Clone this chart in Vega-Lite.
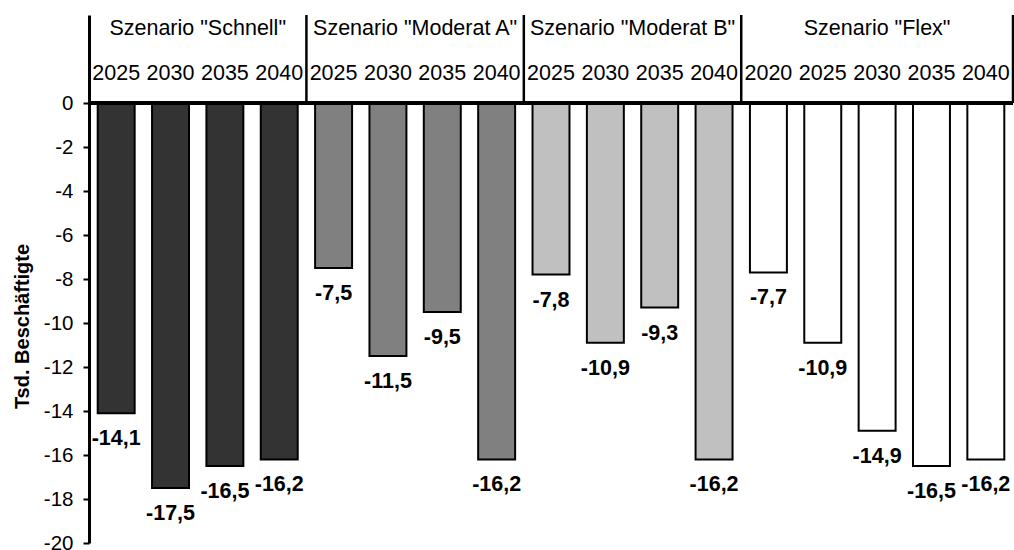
{
  "$schema": "https://vega.github.io/schema/vega-lite/v6.json",
  "autosize": "none",
  "width": 924,
  "height": 528,
  "padding": {"left": 89, "top": 15, "right": 1, "bottom": 7},
  "background": "white",
  "config": {
    "view": {"stroke": null},
    "font": "Liberation Sans",
    "locale": {"number": {"decimal": ",", "thousands": ".", "grouping": [3], "currency": ["", " €"], "minus": "-"}}
  },
  "data": {
    "values": [
      {"scenario": "Schnell", "header": "Szenario \"Schnell\"", "year": "2025", "key": "Schnell 2025", "value": -14.1},
      {"scenario": "Schnell", "header": "Szenario \"Schnell\"", "year": "2030", "key": "Schnell 2030", "value": -17.5},
      {"scenario": "Schnell", "header": "Szenario \"Schnell\"", "year": "2035", "key": "Schnell 2035", "value": -16.5},
      {"scenario": "Schnell", "header": "Szenario \"Schnell\"", "year": "2040", "key": "Schnell 2040", "value": -16.2},
      {"scenario": "Moderat A", "header": "Szenario \"Moderat A\"", "year": "2025", "key": "Moderat A 2025", "value": -7.5},
      {"scenario": "Moderat A", "header": "Szenario \"Moderat A\"", "year": "2030", "key": "Moderat A 2030", "value": -11.5},
      {"scenario": "Moderat A", "header": "Szenario \"Moderat A\"", "year": "2035", "key": "Moderat A 2035", "value": -9.5},
      {"scenario": "Moderat A", "header": "Szenario \"Moderat A\"", "year": "2040", "key": "Moderat A 2040", "value": -16.2},
      {"scenario": "Moderat B", "header": "Szenario \"Moderat B\"", "year": "2025", "key": "Moderat B 2025", "value": -7.8},
      {"scenario": "Moderat B", "header": "Szenario \"Moderat B\"", "year": "2030", "key": "Moderat B 2030", "value": -10.9},
      {"scenario": "Moderat B", "header": "Szenario \"Moderat B\"", "year": "2035", "key": "Moderat B 2035", "value": -9.3},
      {"scenario": "Moderat B", "header": "Szenario \"Moderat B\"", "year": "2040", "key": "Moderat B 2040", "value": -16.2},
      {"scenario": "Flex", "header": "Szenario \"Flex\"", "year": "2020", "key": "Flex 2020", "value": -7.7},
      {"scenario": "Flex", "header": "Szenario \"Flex\"", "year": "2025", "key": "Flex 2025", "value": -10.9},
      {"scenario": "Flex", "header": "Szenario \"Flex\"", "year": "2030", "key": "Flex 2030", "value": -14.9},
      {"scenario": "Flex", "header": "Szenario \"Flex\"", "year": "2035", "key": "Flex 2035", "value": -16.5},
      {"scenario": "Flex", "header": "Szenario \"Flex\"", "year": "2040", "key": "Flex 2040", "value": -16.2}
    ]
  },
  "layer": [
    {
      "mark": {"type": "bar", "stroke": "black", "strokeWidth": 2},
      "encoding": {
        "x": {"field": "key", "type": "nominal", "sort": null, "axis": null, "scale": {"paddingInner": 0.32, "paddingOuter": 0.16}},
        "y": {
          "field": "value", "type": "quantitative",
          "scale": {"domain": [-20, 4], "nice": false, "zero": false},
          "axis": {
            "values": [-20, -18, -16, -14, -12, -10, -8, -6, -4, -2, 0],
            "format": "d",
            "grid": false,
            "title": "Tsd. Beschäftigte",
            "titleFont": "Liberation Sans",
            "titleFontSize": 20,
            "titleFontWeight": "bold",
            "titleColor": "black",
            "titleAngle": -90,
            "titleX": -61,
            "titleY": 311,
            "titleAlign": "center",
            "titleBaseline": "alphabetic",
            "labelFont": "Liberation Sans",
            "labelFontSize": 20.5,
            "labelColor": "black",
            "labelPadding": 10,
            "tickSize": 6,
            "tickWidth": 2,
            "tickColor": "black",
            "domainColor": "black",
            "domainWidth": 3
          }
        },
        "y2": {"datum": 0},
        "fill": {
          "field": "scenario", "type": "nominal", "legend": null,
          "scale": {"domain": ["Schnell", "Moderat A", "Moderat B", "Flex"], "range": ["#333333", "#808080", "#c0c0c0", "#ffffff"]}
        }
      }
    },
    {
      "mark": {"type": "text", "fontSize": 21.5, "fontWeight": "bold", "baseline": "middle", "align": "center", "dy": 26, "color": "black"},
      "encoding": {
        "x": {"field": "key", "type": "nominal", "sort": null},
        "y": {"field": "value", "type": "quantitative"},
        "text": {"field": "value", "type": "quantitative", "format": ".1f"}
      }
    },
    {
      "mark": {"type": "rule", "strokeWidth": 3, "color": "black"},
      "encoding": {"y": {"datum": 0}}
    },
    {
      "mark": {"type": "text", "fontSize": 21.5, "baseline": "middle", "align": "center", "color": "black"},
      "encoding": {
        "x": {"field": "key", "type": "nominal", "sort": null},
        "y": {"datum": 1.3},
        "text": {"field": "year", "type": "nominal"}
      }
    },
    {
      "transform": [{"filter": "datum.year === '2030' && datum.scenario !== 'Flex'"}],
      "mark": {"type": "text", "fontSize": 21.5, "baseline": "middle", "align": "center", "color": "black"},
      "encoding": {
        "x": {"field": "key", "type": "nominal", "sort": null, "bandPosition": 1.2353},
        "y": {"datum": 3.35},
        "text": {"field": "header", "type": "nominal"}
      }
    },
    {
      "transform": [{"filter": "datum.year === '2030' && datum.scenario === 'Flex'"}],
      "mark": {"type": "text", "fontSize": 21.5, "baseline": "middle", "align": "center", "color": "black"},
      "encoding": {
        "x": {"field": "key", "type": "nominal", "sort": null, "bandPosition": 0.5},
        "y": {"datum": 3.35},
        "text": {"field": "header", "type": "nominal"}
      }
    },
    {
      "transform": [{"filter": "datum.year === '2040'"}],
      "mark": {"type": "rule", "strokeWidth": 2.5, "color": "black"},
      "encoding": {
        "x": {"field": "key", "type": "nominal", "sort": null, "bandPosition": 1.2353},
        "y": {"datum": 4},
        "y2": {"datum": 0}
      }
    }
  ]
}
